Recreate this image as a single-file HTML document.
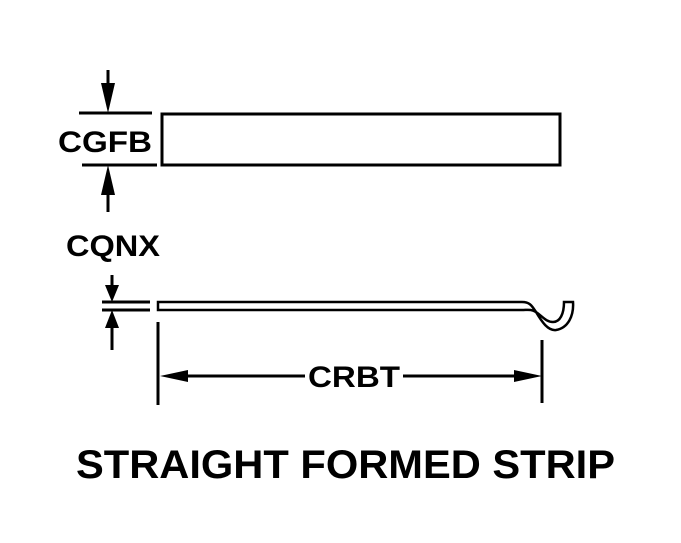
<!DOCTYPE html>
<html><head><style>html,body{margin:0;padding:0;background:#fff}svg{display:block}</style></head>
<body>
<svg width="681" height="543" viewBox="0 0 681 543" xmlns="http://www.w3.org/2000/svg">
<g stroke="#000" stroke-width="3" fill="none">
<rect x="162" y="114" width="398" height="51"/>
<line x1="79" y1="113" x2="152" y2="113"/>
<line x1="82" y1="165" x2="157" y2="165"/>
<line x1="108" y1="70" x2="108" y2="100"/>
<line x1="108" y1="178" x2="108" y2="212"/>
<line x1="102" y1="302" x2="150" y2="302"/>
<line x1="102" y1="310" x2="150" y2="310"/>
<line x1="112" y1="275" x2="112" y2="292"/>
<line x1="112" y1="320" x2="112" y2="350"/>
<path d="M158 302 L522 302 C530 302 532 306 536 312 C542 322 548 331 556 330 C568 328 574 316 573 302 L564 302 C564 314 560 322 553 322 C546 322 542 316 536 312 C531 309 528 310 522 310 L158 310 Z" stroke-width="2.5"/>
<line x1="158" y1="322" x2="158" y2="405"/>
<line x1="542" y1="340" x2="542" y2="403"/>
<line x1="175" y1="376" x2="305" y2="376"/>
<line x1="403" y1="376" x2="528" y2="376"/>
</g>
<g fill="#000">
<polygon points="101,83 115,83 108,113"/>
<polygon points="101,195 115,195 108,165"/>
<polygon points="105,285 119,285 112,302"/>
<polygon points="105,328 119,328 112,310"/>
<polygon points="160,376 188,370 188,382"/>
<polygon points="542,376 514,370 514,382"/>
</g>
<g font-family="Liberation Sans, sans-serif" font-weight="bold" fill="#000">
<text x="58" y="152" font-size="30" textLength="94" lengthAdjust="spacingAndGlyphs">CGFB</text>
<text x="66" y="256" font-size="30" textLength="94" lengthAdjust="spacingAndGlyphs">CQNX</text>
<text x="308" y="387" font-size="30" textLength="92" lengthAdjust="spacingAndGlyphs">CRBT</text>
<text x="76" y="478" font-size="40" textLength="539" lengthAdjust="spacingAndGlyphs">STRAIGHT FORMED STRIP</text>
</g>
</svg>
</body></html>
